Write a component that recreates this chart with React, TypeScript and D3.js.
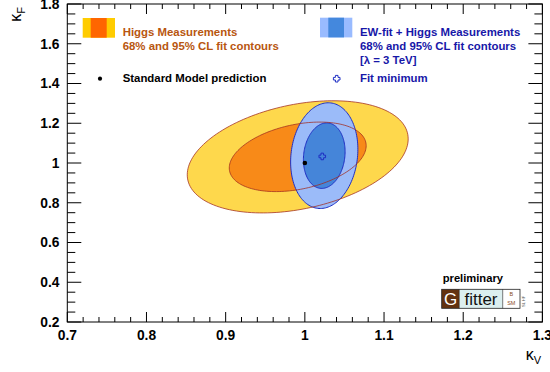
import React from "react";
import * as d3 from "d3";

const W = 550;
const H = 372;

const kVDomain = [0.7, 1.3];
const kFDomain = [0.2, 1.8];
const xTickValues = [0.7, 0.8, 0.9, 1.0, 1.1, 1.2, 1.3];
const xTickLabels = ["0.7", "0.8", "0.9", "1", "1.1", "1.2", "1.3"];
const yTickValues = [0.2, 0.4, 0.6, 0.8, 1.0, 1.2, 1.4, 1.6, 1.8];
const yTickLabels = ["0.2", "0.4", "0.6", "0.8", "1", "1.2", "1.4", "1.6", "1.8"];

// Higgs measurements only: centre, widths (kV, kF) and correlation
const higgsCenter = [0.991, 1.031];
const higgsSigma = [0.057, 0.1153];
const higgsRho = 0.32;
// EW-fit + Higgs measurements
const ewCenter = [1.0245, 1.037];
const ewSigma = [0.01735, 0.1087];
const ewRho = 0.12;
// Delta chi2 for 68% and 95% CL (2 dof)
const clLevels = [2.3, 5.99];

const smPoint = [1.0, 1.0];
const fitMinimum = [1.022, 1.033];

const higgsLegend = ["Higgs Measurements", "68% and 95% CL fit contours"];
const ewLegend = ["EW-fit + Higgs Measurements", "68% and 95% CL fit contours", "[λ = 3 TeV]"];

const FONT = "'Liberation Sans', Arial, Helvetica, sans-serif";

const X0 = 67.3, X1 = 542.4, Y0 = 4, Y1 = 322;

function ellipsePoints(c: number[], s: number[], rho: number, q: number): [number, number][] {
  const k = Math.sqrt(q);
  const n = 160;
  const pts: [number, number][] = [];
  for (let i = 0; i < n; i++) {
    const t = (2 * Math.PI * i) / n;
    const u = Math.cos(t), v = Math.sin(t);
    pts.push([c[0] + k * s[0] * u, c[1] + k * s[1] * (rho * u + Math.sqrt(1 - rho * rho) * v)]);
  }
  return pts;
}

export default function App() {
  const x = d3.scaleLinear().domain(kVDomain).range([X0, X1]);
  const y = d3.scaleLinear().domain(kFDomain).range([Y1, Y0]);
  const line = d3
    .line<[number, number]>()
    .x((d) => x(d[0]))
    .y((d) => y(d[1]))
    .curve(d3.curveLinearClosed);

  const h68 = line(ellipsePoints(higgsCenter, higgsSigma, higgsRho, clLevels[0])) || "";
  const h95 = line(ellipsePoints(higgsCenter, higgsSigma, higgsRho, clLevels[1])) || "";
  const e68 = line(ellipsePoints(ewCenter, ewSigma, ewRho, clLevels[0])) || "";
  const e95 = line(ellipsePoints(ewCenter, ewSigma, ewRho, clLevels[1])) || "";

  const xMinor = d3.range(0.7, 1.3001, 0.02);
  const yMinor = d3.range(0.2, 1.8001, 0.05);

  const yellow = "#fed84c";
  const orange = "#f88a18";
  const lblue = "#9bbbf9";
  const dblue = "#4585d9";
  const red = "#a02a1e";
  const blue = "#1f2fc4";
  const higgsText = "#b8560f";
  const ewText = "#1717a8";

  const fx = x(fitMinimum[0]);
  const fy = y(fitMinimum[1]);
  const a = 1.3, b = 3.3;
  const crossPath = `M${fx - a},${fy - b}H${fx + a}V${fy - a}H${fx + b}V${fy + a}H${fx + a}V${fy + b}H${fx - a}V${fy + a}H${fx - b}V${fy - a}H${fx - a}Z`;

  return (
    <svg width={W} height={H} style={{ position: "absolute", left: 0, top: 0, background: "#fff" }} fontFamily={FONT}>
      <rect x={0} y={0} width={W} height={H} fill="#fff" />
      {/* contours */}
      <path d={h95} fill={yellow} />
      <path d={h68} fill={orange} />
      <path d={e95} fill={lblue} />
      <path d={e68} fill={dblue} />
      <path d={e95} fill="none" stroke={blue} strokeWidth={1} />
      <path d={e68} fill="none" stroke={blue} strokeWidth={1} />
      <path d={h95} fill="none" stroke={red} strokeWidth={1} strokeOpacity={0.75} />
      <path d={h68} fill="none" stroke={red} strokeWidth={1} strokeOpacity={0.75} />
      {/* SM point */}
      <circle cx={x(smPoint[0])} cy={y(smPoint[1])} r={2.3} fill="#000" />
      {/* fit minimum */}
      <path d={crossPath} fill="none" stroke={blue} strokeWidth={1} />

      {/* frame */}
      <rect x={X0} y={Y0} width={X1 - X0} height={Y1 - Y0} fill="none" stroke="#000" strokeWidth={1} />
      {/* x ticks */}
      {xMinor.map((v, i) => {
        const major = i % 5 === 0;
        const L = major ? 10 : 5;
        return (
          <g key={"xm" + i}>
            <line x1={x(v)} x2={x(v)} y1={Y1} y2={Y1 - L} stroke="#000" strokeWidth={1} />
            <line x1={x(v)} x2={x(v)} y1={Y0} y2={Y0 + L} stroke="#000" strokeWidth={1} />
          </g>
        );
      })}
      {/* y ticks */}
      {yMinor.map((v, i) => {
        const major = i % 4 === 0;
        const L = major ? 14 : 8;
        return (
          <g key={"ym" + i}>
            <line x1={X0} x2={X0 + L} y1={y(v)} y2={y(v)} stroke="#000" strokeWidth={1} />
            <line x1={X1} x2={X1 - L} y1={y(v)} y2={y(v)} stroke="#000" strokeWidth={1} />
          </g>
        );
      })}
      {xTickValues.map((v, i) => (
        <text key={"xl" + i} x={x(v)} y={339.5} textAnchor="middle" fontSize={13.8} fontWeight="bold">
          {xTickLabels[i]}
        </text>
      ))}
      {yTickValues.map((v, i) => (
        <text key={"yl" + i} x={59.5} y={y(v)} dy="0.36em" textAnchor="end" fontSize={13.8} fontWeight="bold">
          {yTickLabels[i]}
        </text>
      ))}
      {/* axis titles */}
      <text x={541} y={360} textAnchor="end" fontSize={16}>
        κ<tspan fontSize={11} dy={4}>V</tspan>
      </text>
      <text transform="translate(21,7) rotate(-90)" textAnchor="end" fontSize={16}>
        κ<tspan fontSize={11} dy={4}>F</tspan>
      </text>

      {/* Higgs legend */}
      <rect x={82.7} y={18} width={32.3} height={19.7} fill="#ffcc00" />
      <rect x={90.7} y={18} width={16} height={19.7} fill="#ff6600" />
      {higgsLegend.map((t, i) => (
        <text key={"hl" + i} x={122.7} y={36 + i * 14.3} fontSize={11.4} fontWeight="bold" fill={higgsText}>
          {t}
        </text>
      ))}
      <circle cx={100} cy={78.7} r={2.1} fill="#000" />
      <text x={122.7} y={82.3} fontSize={11.4} fontWeight="bold" fill="#000">
        Standard Model prediction
      </text>

      {/* EW legend */}
      <rect x={320} y={17.7} width={32.3} height={19.7} fill="#99bbff" />
      <rect x={328.3} y={17.7} width={15.7} height={19.7} fill="#4488dd" />
      {ewLegend.map((t, i) => (
        <text key={"el" + i} x={360} y={36 + i * 14.2} fontSize={11.4} fontWeight="bold" fill={ewText}>
          {t}
        </text>
      ))}
      <path
        d={`M${336.7 - 1.3},${78.7 - 3.3}H${336.7 + 1.3}V${78.7 - 1.3}H${336.7 + 3.3}V${78.7 + 1.3}H${336.7 + 1.3}V${78.7 + 3.3}H${336.7 - 1.3}V${78.7 + 1.3}H${336.7 - 3.3}V${78.7 - 1.3}H${336.7 - 1.3}Z`}
        fill="none"
        stroke={blue}
        strokeWidth={1}
      />
      <text x={360} y={82.3} fontSize={11.4} fontWeight="bold" fill={ewText}>
        Fit minimum
      </text>

      {/* Gfitter logo */}
      <text x={442.7} y={281.5} fontSize={11.2} fontWeight="bold" fill="#000">
        preliminary
      </text>
      <rect x={441.7} y={289.3} width={17.6} height={19} fill="#633210" />
      <rect x={459.3} y={289.3} width={43.4} height={19} fill="#dcefef" />
      <rect x={502.7} y={289.3} width={17.3} height={19} fill="#fff" />
      <rect x={441.7} y={289.3} width={78.3} height={19} fill="none" stroke="#222" strokeWidth={0.8} />
      <line x1={459.3} x2={459.3} y1={289.3} y2={308.3} stroke="#222" strokeWidth={0.6} />
      <line x1={502.7} x2={502.7} y1={289.3} y2={308.3} stroke="#222" strokeWidth={0.6} />
      <text x={450.5} y={305} textAnchor="middle" fontSize={17} fill="#fff">
        G
      </text>
      <text x={481} y={305} textAnchor="middle" fontSize={17} fill="#111">
        fitter
      </text>
      <text x={511.3} y={296} textAnchor="middle" fontSize={5.5} fill="#8a4a1a">
        B
      </text>
      <text x={511.3} y={304.5} textAnchor="middle" fontSize={5.5} fill="#8a4a1a">
        SM
      </text>
      <text transform="translate(525,307) rotate(-90)" fontSize={4} fill="#555">
        SL HF
      </text>
    </svg>
  );
}
